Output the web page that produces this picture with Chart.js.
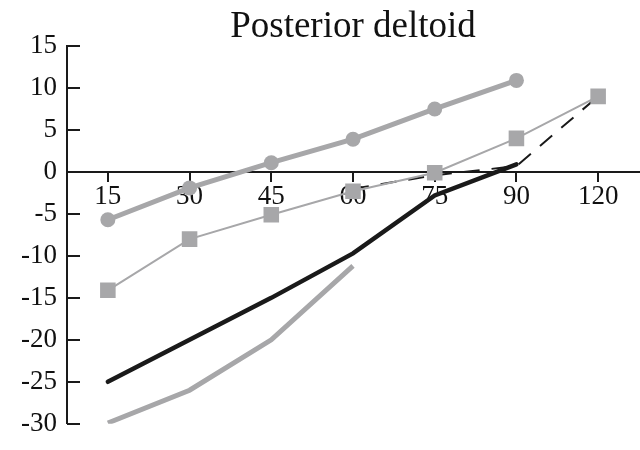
<!DOCTYPE html>
<html>
<head>
<meta charset="utf-8">
<script src="https://cdn.jsdelivr.net/npm/chart.js@4"></script>
<style>
  html, body { margin: 0; padding: 0; background: #fff; }
  #wrap { width: 640px; height: 450px; }
</style>
</head>
<body>
<div id="wrap"><canvas id="deltoid"></canvas></div>
<script>
// angles on the x axis
const angles = ['15', '30', '45', '60', '75', '90', '120'];
const yTicks = [-30, -25, -20, -15, -10, -5, 0, 5, 10, 15];

const circleSeries = [-5.7, -1.9, 1.1, 3.9, 7.5, 10.9, null];
const squareSeries = [-14.1, -8.0, -5.1, -2.3, -0.1, 4.0, 9.0];
const blackSeries  = [-25.0, -20.0, -15.0, -9.7, -2.8, 0.9, null];
const grayLow      = [-29.9, -26.0, -20.0, -11.2, null, null, null];
const dashedSeries = [null, null, null, -2.0, -0.4, 0.7, 9.0];

const GRAY = '#a7a7a9';
const INK = '#1a1a1a';

// y ticks point inward (to the right of the axis)
const innerTicks = {
  id: 'innerTicks',
  afterDatasetsDraw(chart) {
    const y = chart.scales.y;
    const ctx = chart.ctx;
    const x0 = chart.chartArea.left;
    ctx.save();
    ctx.strokeStyle = INK;
    ctx.lineWidth = 2;
    yTicks.forEach(v => {
      const py = Math.round(y.getPixelForValue(v));
      ctx.beginPath();
      ctx.moveTo(x0, py);
      ctx.lineTo(x0 + 13, py);
      ctx.stroke();
    });
    ctx.restore();
  }
};

const data = {
  labels: angles,
  datasets: [
    {
      data: squareSeries,
      borderColor: GRAY, backgroundColor: GRAY,
      borderWidth: 2, pointStyle: 'rect', pointRadius: 11,
      pointBorderWidth: 0
    },
    {
      data: circleSeries,
      borderColor: GRAY, backgroundColor: GRAY,
      borderWidth: 5, pointStyle: 'circle', pointRadius: 7.5,
      pointBorderWidth: 0
    },
    {
      data: blackSeries,
      borderColor: INK, borderWidth: 4.5, pointRadius: 0,
      borderCapStyle: 'round'
    },
    {
      data: grayLow,
      borderColor: GRAY, borderWidth: 5, pointRadius: 0
    },
    {
      data: dashedSeries,
      borderColor: INK, borderWidth: 2, pointRadius: 0,
      borderDash: [16, 12]
    }
  ]
};

new Chart(document.getElementById('deltoid'), {
  type: 'line',
  data: data,
  options: {
    responsive: true,
    maintainAspectRatio: false,
    animation: false,
    spanGaps: false,
    layout: { autoPadding: false, padding: { left: 0, right: 1, top: 0, bottom: 22 } },
    plugins: {
      legend: { display: false },
      tooltip: { enabled: false },
      title: {
        display: true,
        text: 'Posterior deltoid',
        fullSize: false,
        color: '#111',
        font: { family: 'Liberation Serif', size: 37, weight: 'normal', lineHeight: 1.0 },
        padding: { top: 9, bottom: 0 }
      }
    },
    scales: {
      x: {
        position: { y: 0 },
        offset: true,
        grid: { display: true, drawOnChartArea: false, drawTicks: true, tickLength: 9, color: INK, lineWidth: 2 },
        border: { display: true, color: INK, width: 2 },
        ticks: {
          color: '#111', padding: 0, maxRotation: 0,
          font: { family: 'Liberation Serif', size: 27 }
        }
      },
      y: {
        min: -30, max: 15,
        afterFit: s => { s.width = 67; },
        afterBuildTicks: s => { s.ticks = yTicks.map(v => ({ value: v })); },
        grid: { drawOnChartArea: false, drawTicks: false },
        border: { display: true, color: INK, width: 2 },
        ticks: {
          color: '#111', padding: 10,
          font: { family: 'Liberation Serif', size: 27 }
        }
      }
    }
  },
  plugins: [innerTicks]
});
</script>
</body>
</html>
